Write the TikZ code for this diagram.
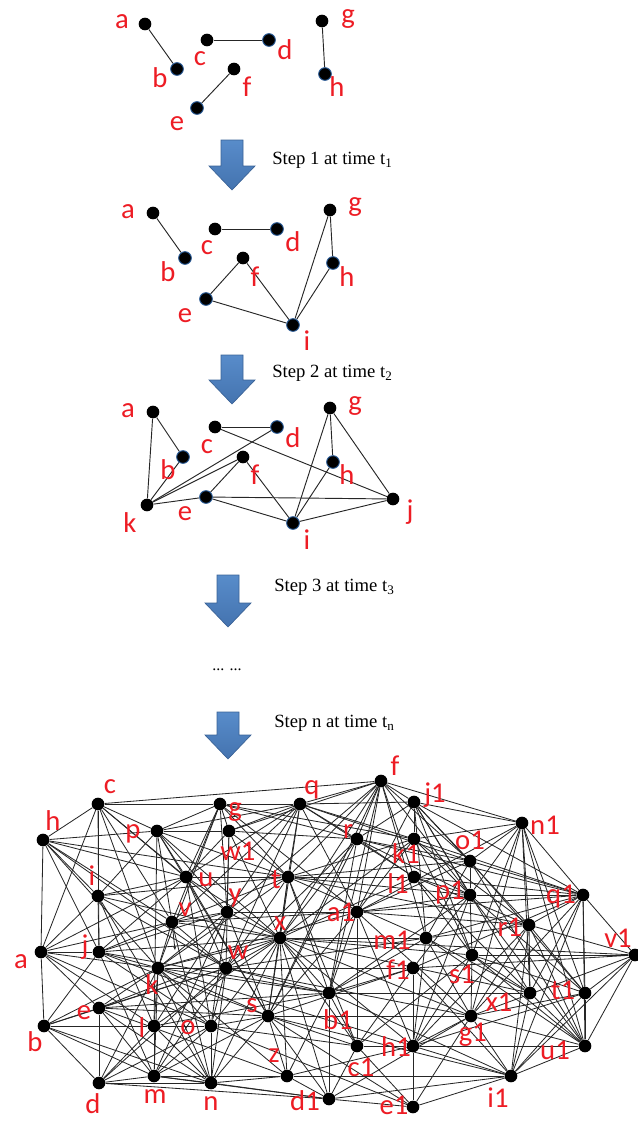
\documentclass[tikz,border=0pt]{standalone}
\usepackage{fontspec}
\setmainfont{Liberation Serif}
\newfontfamily\lblfont{Carlito}
\usetikzlibrary{arrows.meta}
\pgfdeclarelayer{bg}
\pgfsetlayers{bg,main}
\definecolor{lblred}{RGB}{237,28,36}
\definecolor{arrowtop}{RGB}{88,140,202}
\definecolor{arrowbot}{RGB}{68,115,175}
\definecolor{arrowedge}{RGB}{58,98,150}
\definecolor{dotedge}{RGB}{40,90,150}
\tikzset{
  dot/.style={circle,fill=black,inner sep=0pt,minimum size=9.5pt},
  bdot/.style={dot,draw=dotedge,line width=0.7pt},
  lbl/.style={inner sep=0pt,text=lblred,font=\lblfont\fontsize{21.5}{21.5}\selectfont},
  edge/.style={draw=black!85,line width=0.7pt},
  bedge/.style={draw=black!85,line width=0.62pt},
  steptext/.style={inner sep=0pt,anchor=west,font=\fontsize{14}{14}\selectfont},
  bluearrow/.style={top color=arrowtop,bottom color=arrowbot,draw=arrowedge,line width=0.5pt}
}
\newcommand{\myblockarrow}[4]{% name, cx, top, tip
  \path[bluearrow] (#2-11,#3) -- (#2+11,#3) -- (#2+11,#4-24) -- (#2+23,#4-24) -- (#2,#4) -- (#2-23,#4-24) -- (#2-11,#4-24) -- cycle;
  \coordinate (#1) at (#2,#4);}
\begin{document}
\begin{tikzpicture}[x=0.75pt,y=-0.75pt]
\useasboundingbox (0,0) rectangle (637,1122);

% ---------- stage 0 ----------
\foreach \n/\x/\y/\s in {a/145/24/dot,b/177/69/bdot,c/207/40/dot,d/269/40/bdot,e/197/108/bdot,f/234/69/dot,g/322/21/dot,h/325/74/bdot}
  \node[\s] (A\n) at (\x,\y) {};
\foreach \n/\x/\y in {a/122/22,b/160/78,c/200/59,d/285/50,e/177/124,f/247/87,g/348/19,h/337/87}
  \node[lbl] (AL\n) at (\x,\y) {\n};
\begin{pgfonlayer}{bg}
\foreach \s/\t in {a/b,c/d,e/f,g/h} \draw[edge] (A\s) -- (A\t);
\end{pgfonlayer}

\myblockarrow{ar1}{232}{140}{190}
\node[steptext] (st1) at (272,160) {Step 1 at time t\textsubscript{1}};

% ---------- stage 1 ----------
\foreach \n/\x/\y/\s in {a/153/213/dot,b/185/258/bdot,c/215/229/dot,d/277/229/bdot,e/206/299/bdot,f/243/258/dot,g/330/210/dot,h/333/263/bdot,i/293/325/bdot}
  \node[\s] (B\n) at (\x,\y) {};
\foreach \n/\x/\y in {a/128/212,b/168/272,c/207/248,d/293/242,e/185/316,f/255/277,g/355/207,h/347/277,i/307/341}
  \node[lbl] (BL\n) at (\x,\y) {\n};
\begin{pgfonlayer}{bg}
\foreach \s/\t in {a/b,c/d,e/f,e/i,f/i,g/h,g/i,h/i} \draw[edge] (B\s) -- (B\t);
\end{pgfonlayer}

\myblockarrow{ar2}{232}{355}{404}
\node[steptext] (st2) at (272,373) {Step 2 at time t\textsubscript{2}};

% ---------- stage 2 ----------
\foreach \n/\x/\y/\s in {a/153/412/dot,b/183/457/bdot,c/215/427/dot,d/277/427/bdot,e/206/497/bdot,f/243/457/dot,g/330/408/dot,h/333/462/bdot,i/293/523/bdot,j/393/499/dot,k/147/505/dot}
  \node[\s] (C\n) at (\x,\y) {};
\foreach \n/\x/\y in {a/128/411,b/168/470,c/207/447,d/293/438,e/185/514,f/255/475,g/355/406,h/347/475,i/307/540,j/410/512,k/130/523}
  \node[lbl] (CL\n) at (\x,\y) {\n};
\begin{pgfonlayer}{bg}
\foreach \s/\t in {a/b,a/k,b/k,k/d,k/f,k/e,c/d,c/j,e/f,e/j,e/i,f/i,g/h,g/i,g/j,h/i,i/j} \draw[edge] (C\s) -- (C\t);
\end{pgfonlayer}

\myblockarrow{ar3}{228}{575}{627}
\node[steptext] (st3) at (274,587) {Step 3 at time t\textsubscript{3}};
\node[inner sep=0pt,font=\fontsize{12}{12}\selectfont] (dots) at (227,670) {... ...};
\myblockarrow{arn}{228}{712}{759}
\node[steptext] (stn) at (274,723) {Step n at time t\textsubscript{n}};

% ---------- final graph ----------
\foreach \n/\x/\y in {c/98/804,g/220/804,q/300/804,f/381/781,j1/414/802,n1/522/823,h/43/840,p/157/831,w1/229/831,r/357/839,k1/414/839,o1/470/861,u/186/877,t/288/877,l1/414/877,i/98/896,p1/470/895,q1/583/895,y/227/912,a1/357/912,v/172/922,r1/529/925,x/280/938,m1/426/938,a/41/952,j/99/952,v1/635/955,s1/472/955,k/158/968,w/226/968,f1/413/968,b1/329/993,x1/530/993,t1/585/993,e/99/1008,s/268/1016,g1/471/1016,b/44/1026,l/154/1026,o/211/1026,c1/357/1046,h1/413/1046,u1/585/1046,z/287/1076,m/154/1076,i1/511/1076,d/99/1083,n/211/1083,d1/329/1099,e1/413/1107}
  \node[dot] (N\n) at (\x,\y) {};
\foreach \n/\x/\y in {c/110/787,g/235/812,q/312/790,f/395/766,j1/435/795,n1/545/825,h/53/821,p/133/834,w1/238/851,r/348/832,k1/406/854,o1/470/840,u/206/880,t/276/880,l1/398/884,i/92/876,p1/450/893,q1/561/897,y/235/898,a1/341/912,v/185/910,r1/510/927,x/280/924,m1/392/940,a/21/962,j/85/947,v1/618/938,s1/462/974,k/152/985,w/238/953,f1/398/970,b1/338/1020,x1/499/1002,t1/563/990,e/84/1013,s/252/1006,g1/473/1035,b/35/1042,l/142/1028,o/188/1028,c1/361/1067,h1/396/1047,u1/555/1050,z/274/1056,m/155/1097,i1/498/1098,d/93/1104,n/211/1104,d1/305/1101,e1/394/1105}
  \node[lbl] (NL\n) at (\x,\y) {\n};
\coordinate (vtip) at (175,950);
\begin{pgfonlayer}{bg}
\foreach \s/\t in {
 c/h,h/a,a/b,b/d,c/f,c/g,g/q,q/j1,q/f,f/j1,f/n1,j1/n1,n1/q1,q1/v1,v1/u1,u1/i1,i1/e1,e1/d1,d/n,n/d1,d/m,m/n,d/d1,
 c/p,c/a,c/j,c/v,c/k,c/u,c/y,c/i,
 h/p,h/i,h/j,h/v,h/u,h/k,h/t,h/w,
 a/j,a/k,a/e,a/l,a/o,a/i,a/v,a/u,
 b/e,b/l,b/j,b/k,b/w,b/m,b/n,
 d/e,d/k,d/o,d/w,d/l,
 e/k,e/m,e/n,e/w,e/s,e/x,
 j/i,j/k,j/v,j/s,j/m,j/o,j/u,j/y,
 i/p,i/u,i/x,i/w,i/n,i/t,i/l,
 p/g,p/q,p/w1,p/u,p/v,p/x,p/s,p/l,p/t,p/y,
 g/w1,g/u,g/t,g/r,g/a1,g/k,g/v,g/y,
 q/t,q/r,q/y,q/x,q/a1,q/o1,q/v,q/w,q/k1,q/l1,q/u,q/w1,
 f/r,f/t,f/a1,f/x,f/l1,f/p1,f/m1,f/b1,f/s,f/w1,f/o1,f/y,
 j1/k1,j1/o1,j1/p1,j1/r1,j1/a1,j1/s1,j1/m1,j1/x1,j1/q1,j1/r,
 n1/o1,n1/p1,n1/r1,n1/t1,n1/u1,n1/x1,n1/s1,n1/a1,n1/g1,n1/k1,
 r/o1,r/q1,r/l1,r/x,r/w,r/s,r/p1,r/b1,
 k1/p1,k1/q1,k1/a1,k1/x,k1/t,k1/g,k1/s1,k1/r1,
 o1/p1,o1/q1,o1/a1,o1/t,o1/t1,o1/u1,o1/m1,
 l1/p1,l1/q1,l1/x1,l1/r1,l1/t,l1/s1,l1/x,
 p1/q1,p1/s1,p1/a1,p1/f1,p1/t1,p1/u1,p1/h1,p1/b1,
 q1/r1,q1/t1,q1/u1,q1/x1,q1/i1,q1/g1,q1/a1,q1/m1,q1/f1,
 r1/v1,r1/g1,r1/t1,r1/u1,r1/i1,r1/m1,r1/a1,r1/h1,r1/x1,
 v1/t1,v1/s1,v1/f1,v1/i1,v1/x,v1/g1,
 t1/u1,t1/g1,t1/i1,t1/h1,t1/s1,
 x1/u1,x1/i1,x1/s1,x1/m1,x1/x,x1/b1,
 s1/g1,s1/u1,s1/h1,s1/c1,s1/x,
 m1/x,m1/g1,m1/u1,m1/h1,m1/b1,m1/w,
 a1/y,a1/v,a1/k,a1/s,a1/b1,a1/g1,a1/c1,a1/h1,
 f1/h1,f1/k,f1/w,f1/b1,f1/i1,f1/c1,f1/s,
 h1/e1,h1/u1,h1/i1,h1/g1,h1/c1,h1/x,h1/z,h1/k,
 i1/g1,i1/d1,i1/b1,i1/s,i1/z,
 g1/u1,g1/s,g1/x,g1/w,g1/e1,g1/d1,
 e1/c1,e1/s,e1/o,
 d1/b1,d1/c1,d1/z,d1/s,d1/x,d1/m,
 c1/b1,c1/x,c1/s,c1/t,c1/o,
 b1/x,b1/w,b1/k,b1/e,b1/z,b1/t,b1/l,b1/j,
 z/s,z/n,z/x,z/m,z/e,z/k,
 s/x,s/k,s/n,s/m,s/t,s/o,s/y,
 x/t,x/k,x/v,x/u,x/o,x/n,x/l,x/j,x/w1,x/w,x/y,
 w/k,w/o,w/n,w/m,w/t,w/u,w/v,
 k/v,k/l,k/m,k/n,k/o,k/y,k/t,
 l/m,l/o,l/y,l/n,
 o/n,o/m,o/y,o/u,
 m/y,n/v,v/y,v/t,
 u/t,u/w1,u/s,
 y/w1,w1/t,w1/w,w1/r,
 t/m1,t/p1,t/r1}
  \draw[bedge] (N\s) -- (N\t);
\draw[bedge,-{Stealth[length=3pt,width=2.5pt]}] (Nv) -- (vtip);
\end{pgfonlayer}
\end{tikzpicture}
\end{document}
